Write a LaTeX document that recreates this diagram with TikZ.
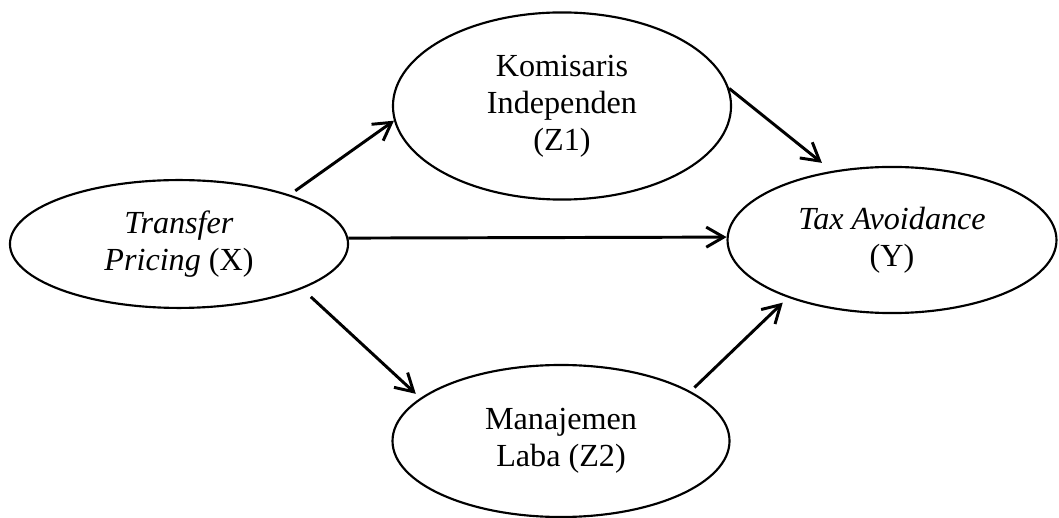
\documentclass[tikz,border=0pt]{standalone}
\usepackage{fontspec}
\setmainfont{Liberation Serif}
\usetikzlibrary{shapes,arrows.meta}

\begin{document}
\begin{tikzpicture}[x=0.373pt,y=-0.373pt,every node/.style = {draw, align=center, shape=ellipse, inner sep=0pt, line width=0.8pt, font=\fontsize{12}{13.8}\selectfont},
panah/.style = {-{Straight Barb[length=6.5pt,width=7.5pt]}, line width=1.1pt}]
\useasboundingbox (0,0) rectangle (1059,518);
\node[minimum width=126.1pt, minimum height=47.7pt] (pricing) at (179,244) {\textit{Transfer}\\\textit{Pricing} (X)};
\node[minimum width=126.1pt, minimum height=69.8pt] (komisaris) at (562,106) {Komisaris\\Independen\\(Z1)};
\node[minimum width=125.7pt, minimum height=56.7pt] (laba) at (561,441) {Manajemen\\Laba (Z2)};
\node[minimum width=122.7pt, minimum height=54.5pt] (tax) at (892,240) {\textit{Tax Avoidance}\\(Y)};
\draw[panah, shorten <=2.5pt] (pricing.24) -- (komisaris.185);
\draw[panah] (pricing.2) -- (tax.179);
\draw[panah, shorten >=4.8pt] (komisaris.6) -- (tax.131);
\draw[panah, shorten <=4.4pt, shorten >=2.3pt] (pricing.-20) -- (laba.163);
\draw[panah, shorten <=2pt, shorten >=2.7pt] (laba.21) -- (tax.209);
\end{tikzpicture}
\end{document}
